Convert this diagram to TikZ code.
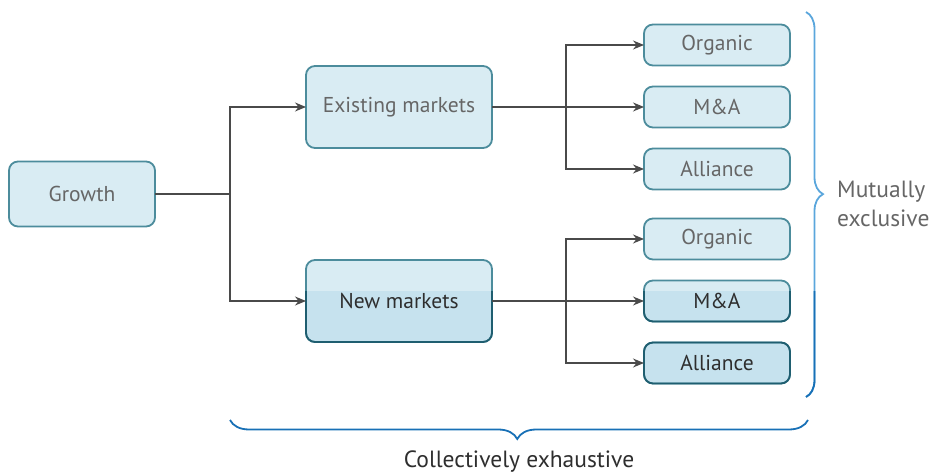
\documentclass[tikz,border=0pt]{standalone}
\usepackage{fontspec}
\setmainfont{PT Sans}
\usetikzlibrary{arrows.meta,decorations.pathreplacing,backgrounds}
\definecolor{boxfill}{HTML}{D9ECF3}
\definecolor{boxfilldk}{HTML}{C6E2EE}
\definecolor{boxline}{HTML}{4C8C9C}
\definecolor{boxlinedk}{HTML}{1F5E70}
\definecolor{txtlt}{HTML}{666666}
\definecolor{txtdk}{HTML}{2E2E2E}
\definecolor{conn}{HTML}{4A4A4A}
\definecolor{bracelt}{HTML}{5AA6DC}
\definecolor{bracedk}{HTML}{1870B6}
\begin{document}
\begin{tikzpicture}[x=1pt,y=-1pt,
  box/.style={draw=boxline, line width=1.8pt, rounded corners=9pt, inner sep=0pt,
    outer sep=0pt, align=center, font=\fontsize{21.5}{24}\selectfont, text=txtlt},
  widebox/.style={box, minimum width=186pt, minimum height=82pt},
  smallbox/.style={box, minimum width=146pt, minimum height=41pt},
  darktext/.style={text=txtdk},
  conn/.style={draw=conn, line width=1.2pt, -{Stealth[length=11pt,width=9pt]}},
  plain/.style={draw=conn, line width=1.2pt},
  bracestyle/.style={line width=1.8pt, decorate},
  label/.style={font=\fontsize{23.5}{29}\selectfont, inner sep=0pt}]
\useasboundingbox (0,0) rectangle (930,473);

% boxes
\node[box, minimum width=146pt, minimum height=65pt] (g) at (82,194) {Growth};
\node[widebox] (em) at (399,107) {Existing markets};
\node[widebox, darktext] (nm) at (399,301) {New markets};
\node[smallbox] (o1) at (717,45) {Organic};
\node[smallbox] (m1) at (717,107) {M\&A};
\node[smallbox] (a1) at (717,169) {Alliance};
\node[smallbox] (o2) at (717,239) {Organic};
\node[smallbox, darktext] (m2) at (717,301) {M\&A};
\node[smallbox, darktext] (a2) at (717,363) {Alliance};

% box fills, deeper tint in the lower band
\begin{scope}[on background layer]
  \foreach \n in {g,em,nm,o1,m1,a1,o2,m2,a2}
    \fill[boxfill, rounded corners=9pt] (\n.south west) rectangle (\n.north east);
  \begin{scope}
    \clip (0,292) rectangle (930,473);
    \foreach \n in {nm,m2,a2}
      \fill[boxfilldk, rounded corners=9pt] (\n.south west) rectangle (\n.north east);
  \end{scope}
\end{scope}
\begin{scope}
  \clip (0,292) rectangle (930,473);
  \foreach \n in {nm,m2,a2}
    \draw[boxlinedk, line width=1.8pt, rounded corners=9pt] (\n.south west) rectangle (\n.north east);
\end{scope}

% connectors
\path (g.east) ++(75,0) coordinate (j0);
\draw[plain] (g.east) -- (j0);
\draw[conn] (j0) |- (em.west);
\draw[conn] (j0) |- (nm.west);

\path (em.east) ++(74,0) coordinate (j1);
\draw[conn] (em.east) -- (m1.west);
\draw[conn] (j1) |- (o1.west);
\draw[conn] (j1) |- (a1.west);

\path (nm.east) ++(74,0) coordinate (j2);
\draw[conn] (nm.east) -- (m2.west);
\draw[conn] (j2) |- (o2.west);
\draw[conn] (j2) |- (a2.west);

% right brace
\coordinate (rt) at (806,12);
\coordinate (rb) at (806,397);
\draw[bracestyle, bracelt, decoration={brace, amplitude=17pt, aspect=0.473}] (rt) -- (rb);
\begin{scope}
  \clip (780,292) rectangle (840,420);
  \draw[bracestyle, bracedk, decoration={brace, amplitude=17pt, aspect=0.473}] (rt) -- (rb);
\end{scope}
\node[label, anchor=west, align=left, text=txtlt] (me) at (837,204) {Mutually\\exclusive};

% bottom brace
\coordinate (bl) at (230,420);
\coordinate (br) at (808,420);
\draw[bracestyle, bracedk, decoration={brace, amplitude=19pt, aspect=0.503}] (br) -- (bl);
\node[label, text=txtdk, anchor=base] (ce) at (519,467) {Collectively exhaustive};
\end{tikzpicture}
\end{document}
